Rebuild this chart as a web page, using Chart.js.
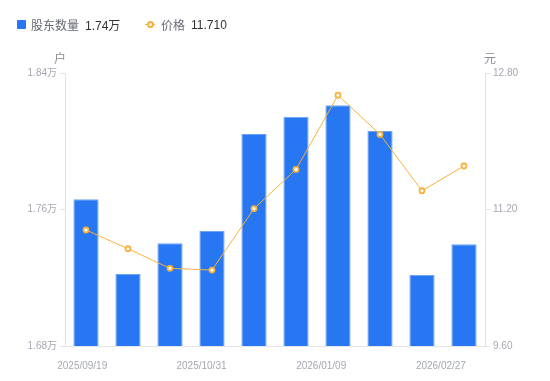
<!DOCTYPE html>
<html>
<head>
<meta charset="utf-8">
<script src="https://cdn.jsdelivr.net/npm/chart.js@4"></script>
<style>
  body { margin: 0; background: #fff; }
  #wrap { position: relative; width: 550px; height: 381px; font-family: 'Liberation Sans', 'Noto Sans CJK SC', sans-serif; }
  #legend { position: absolute; left: 17px; top: 16px; font-size: 12px; color: #666a75; white-space: nowrap; }
  #legend span { display: inline-block; vertical-align: middle; }
  .sq { width: 9px; height: 9px; background: #2777f3; border-radius: 1px; margin-right: 5px; }
  .val { color: #333; margin-left: 6px; }
  .ln { position: relative; width: 10px; height: 9px; margin-right: 6px; }
  .ln:before { content: ''; position: absolute; left: 0; right: 0; top: 4px; height: 1px; background: #f6b23c; }
  .ln:after { content: ''; position: absolute; left: 2px; top: 1px; width: 3px; height: 3px; border: 2px solid #f6b23c; border-radius: 50%; background: #fff; }
  .unit { position: absolute; top: 49px; font-size: 12px; color: #8a8d97; font-family: 'Noto Sans CJK SC', sans-serif; }
</style>
</head>
<body>
<div id="wrap">
  <canvas id="c" width="550" height="381"></canvas>
  <div id="legend">
    <span class="sq"></span><span>股东数量</span><span class="val">1.74万</span>
    <span style="width:18px"></span>
    <span class="ln"></span><span>价格</span><span class="val">11.710</span>
  </div>
  <div class="unit" style="left:54px">户</div>
  <div class="unit" style="left:484px">元</div>
</div>
<script>
  // 日期（每期一个）
  const dates = ['2025/09/19', '2025/10/03', '2025/10/17', '2025/10/31', '2025/11/28',
                 '2025/12/19', '2026/01/09', '2026/01/23', '2026/02/13', '2026/02/27'];
  // 股东户数
  const holders = [17660, 17222, 17402, 17474, 18043, 18144, 18211, 18060, 17216, 17396];
  // 股价（元）
  const prices = [10.96, 10.74, 10.51, 10.49, 11.21, 11.67, 12.54, 12.08, 11.42, 11.71];
  // 坐标轴刻度
  const holderTicks = [16800, 17600, 18400];
  const priceTicks = [9.60, 11.20, 12.80];
  // 底部显示的日期
  const shownDates = [dates[0], dates[3], dates[6], dates[9]];
  const shownPos = [0.041, 0.325, 0.61, 0.895];

  const tickColor = '#a5a8b3';
  const lineGray = '#e3e4e8';
  const font = { family: "'Liberation Sans', 'Noto Sans CJK SC', sans-serif", size: 10 };

  new Chart(document.getElementById('c'), {
    data: {
      labels: dates,
      datasets: [
        {
          type: 'line',
          label: '价格',
          data: prices,
          yAxisID: 'yPrice',
          xAxisID: 'x',
          borderColor: '#f6b23c',
          borderWidth: 1,
          pointRadius: 2.5,
          pointBorderWidth: 1.8,
          pointBackgroundColor: '#fff',
          pointBorderColor: '#f6b23c',
          tension: 0,
          order: 0
        },
        {
          type: 'bar',
          label: '股东数量',
          data: holders,
          yAxisID: 'yHold',
          xAxisID: 'x',
          backgroundColor: '#2777f3',
          borderColor: '#6da3f7',
          borderWidth: 1,
          barPercentage: 0.6,
          categoryPercentage: 1,
          order: 1
        }
      ]
    },
    options: {
      responsive: false,
      animation: false,
      layout: { padding: { top: 73, left: 0, right: 0, bottom: 0 } },
      plugins: { legend: { display: false }, tooltip: { enabled: false } },
      scales: {
        x: { type: 'category', display: false, offset: true },
        xDate: {
          type: 'linear',
          position: 'bottom',
          min: 0, max: 1,
          afterBuildTicks: s => { s.ticks = shownPos.map(v => ({ value: v })); },
          afterFit: s => { s.height = 35; },
          ticks: {
            color: tickColor, font: font, padding: 6, maxRotation: 0, autoSkip: false,
            callback: (v, i) => shownDates[i]
          },
          grid: { display: false },
          border: { color: lineGray }
        },
        yHold: {
          type: 'linear',
          position: 'left',
          min: 16800, max: 18400,
          afterBuildTicks: s => { s.ticks = holderTicks.map(v => ({ value: v })); },
          afterFit: s => { s.width = 65; },
          ticks: { color: tickColor, font: font, padding: 3, callback: v => (v / 10000).toFixed(2) + '万' },
          grid: { drawOnChartArea: false, tickLength: 5, color: lineGray },
          border: { color: lineGray }
        },
        yPrice: {
          type: 'linear',
          position: 'right',
          min: 9.6, max: 12.8,
          afterBuildTicks: s => { s.ticks = priceTicks.map(v => ({ value: v })); },
          afterFit: s => { s.width = 65; },
          ticks: { color: tickColor, font: font, padding: 3, callback: v => v.toFixed(2) },
          grid: { drawOnChartArea: false, tickLength: 5, color: lineGray },
          border: { color: lineGray }
        }
      }
    }
  });
</script>
</body>
</html>
